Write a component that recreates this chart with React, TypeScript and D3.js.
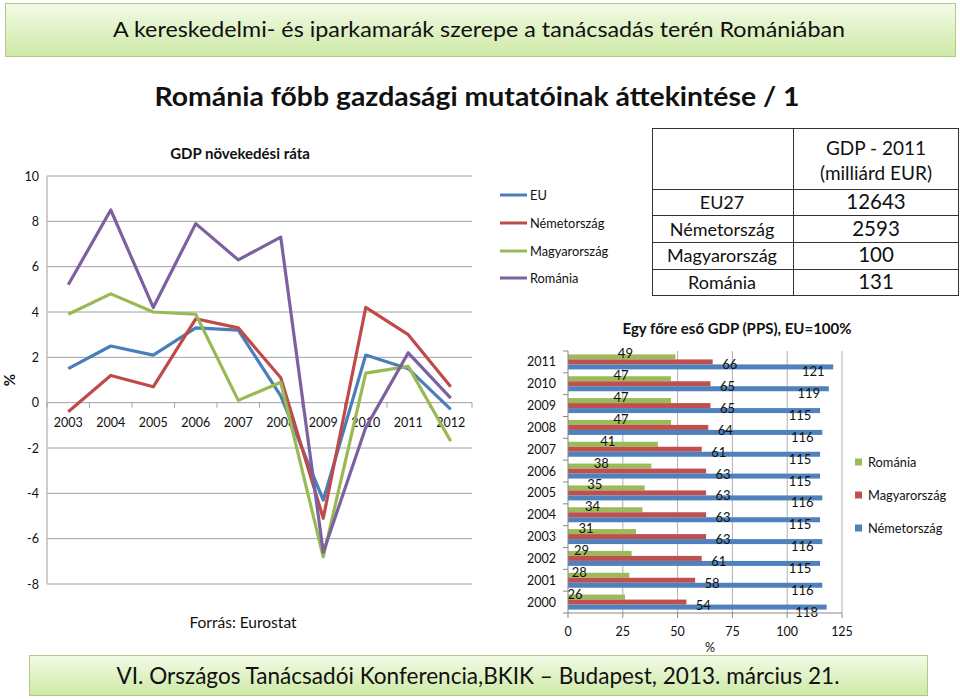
import React from "react";
import * as d3 from "d3";

const years = ["2003", "2004", "2005", "2006", "2007", "2008", "2009", "2010", "2011", "2012"];
const seriesNames = ["EU", "Németország", "Magyarország", "Románia"];
const euGrowth = [1.5, 2.5, 2.1, 3.3, 3.2, 0.3, -4.3, 2.1, 1.5, -0.3];
const deGrowth = [-0.4, 1.2, 0.7, 3.7, 3.3, 1.1, -5.1, 4.2, 3.0, 0.7];
const huGrowth = [3.9, 4.8, 4.0, 3.9, 0.1, 0.9, -6.8, 1.3, 1.6, -1.7];
const roGrowth = [5.2, 8.5, 4.2, 7.9, 6.3, 7.3, -6.6, -1.1, 2.2, 0.2];
const lineColors = ["#4a7ebb", "#be4b48", "#98b954", "#7d60a0"];
const yTicks = [-8, -6, -4, -2, 0, 2, 4, 6, 8, 10];

const tableNames = ["EU27", "Németország", "Magyarország", "Románia"];
const tableValues = ["12643", "2593", "100", "131"];

const barYears = ["2011", "2010", "2009", "2008", "2007", "2006", "2005", "2004", "2003", "2002", "2001", "2000"];
const roPPS = [49, 47, 47, 47, 41, 38, 35, 34, 31, 29, 28, 26];
const huPPS = [66, 65, 65, 64, 61, 63, 63, 63, 63, 61, 58, 54];
const dePPS = [121, 119, 115, 116, 115, 115, 116, 115, 116, 115, 116, 118];
const barSeriesNames = ["Románia", "Magyarország", "Németország"];
const barColors = ["#9bbb59", "#c0504d", "#4f81bd"];
const xTicks = [0, 25, 50, 75, 100, 125];

const FONT = "Lato, 'Open Sans', sans-serif";

export default function App() {
  // line chart scales
  const xb = d3.scaleBand<string>().domain(years).range([47, 472]).paddingInner(0).paddingOuter(0);
  const xc = (y: string) => (xb(y) as number) + xb.bandwidth() / 2;
  const ly = d3.scaleLinear().domain([-8, 10]).range([584, 176]);
  const growth = [euGrowth, deGrowth, huGrowth, roGrowth];
  const lineGen = d3
    .line<number>()
    .x((_, i) => xc(years[i]))
    .y((d) => ly(d));

  // bar chart scales
  const bx = d3.scaleLinear().domain([0, 125]).range([568, 842]);
  const by = d3.scaleBand<string>().domain(barYears).range([351, 613]).paddingInner(0);
  const bw = by.bandwidth();
  const barH = 5;
  const groupOff = (bw - barH * 3) / 2;
  const barData = [roPPS, huPPS, dePPS];
  const labelDx = [-50, 17, -20];
  const labelDy = [-3, 3, 5];

  return (
    <svg width={960} height={699} style={{ position: "absolute", left: 0, top: 0 }} fontFamily={FONT}>
      <defs>
        <linearGradient id="bannerGrad" x1="0" y1="0" x2="0" y2="1">
          <stop offset="0%" stopColor="#f3fbe6" />
          <stop offset="100%" stopColor="#cde9a6" />
        </linearGradient>
      </defs>
      <rect x={0} y={0} width={960} height={699} fill="#ffffff" />

      {/* top banner */}
      <rect x={5.5} y={3.5} width={950} height={53} fill="url(#bannerGrad)" stroke="#b3c98c" strokeWidth={1} />
      <text x={479} y={37} fontSize={21} textAnchor="middle" fill="#111" textLength={732} lengthAdjust="spacingAndGlyphs">
        A kereskedelmi- és iparkamarák szerepe a tanácsadás terén Romániában
      </text>

      {/* main title */}
      <text x={477} y={106} fontSize={26} fontWeight="bold" textAnchor="middle" fill="#111" textLength={645} lengthAdjust="spacingAndGlyphs">
        Románia főbb gazdasági mutatóinak áttekintése / 1
      </text>

      {/* line chart */}
      <text x={240} y={159} fontSize={15} fontWeight="bold" textAnchor="middle" fill="#111">
        GDP növekedési ráta
      </text>
      {yTicks.map((t) => (
        <g key={"g" + t}>
          <line x1={47} x2={472} y1={ly(t)} y2={ly(t)} stroke="#a0a0a0" strokeWidth={1} />
          <text x={39} y={ly(t) + 4.5} fontSize={12.5} textAnchor="end" fill="#111">
            {t}
          </text>
        </g>
      ))}
      <line x1={47} x2={47} y1={ly(10)} y2={ly(-8)} stroke="#a0a0a0" strokeWidth={1} />
      {years.map((y) => (
        <line key={"t" + y} x1={xb(y) as number} x2={xb(y) as number} y1={ly(0)} y2={ly(0) + 5} stroke="#a0a0a0" />
      ))}
      <line x1={472} x2={472} y1={ly(0)} y2={ly(0) + 5} stroke="#a0a0a0" />
      {years.map((y) => (
        <text key={"yl" + y} x={xc(y)} y={ly(0) + 24} fontSize={12.5} textAnchor="middle" fill="#111">
          {y}
        </text>
      ))}
      <text x={15} y={380} fontSize={15} fontWeight="bold" textAnchor="middle" transform="rotate(-90 15 380)" fill="#111">
        %
      </text>
      {growth.map((s, i) => (
        <path key={"l" + i} d={lineGen(s) as string} fill="none" stroke={lineColors[i]} strokeWidth={3.2} strokeLinejoin="round" />
      ))}
      <text x={243} y={628} fontSize={15.5} textAnchor="middle" fill="#111">
        Forrás: Eurostat
      </text>

      {/* line legend */}
      {seriesNames.map((n, i) => {
        const yy = [195, 223, 251, 278][i];
        return (
          <g key={"lg" + n}>
            <line x1={500} x2={527} y1={yy} y2={yy} stroke={lineColors[i]} strokeWidth={3} />
            <text x={530} y={yy + 4.5} fontSize={12.8} fill="#111">
              {n}
            </text>
          </g>
        );
      })}

      {/* table */}
      <g stroke="#333" strokeWidth={1} fill="none">
        <rect x={652.5} y={128.5} width={306} height={167} />
        <line x1={793.5} x2={793.5} y1={128.5} y2={295.5} />
        {[189.5, 215.5, 242.5, 269.5].map((yy) => (
          <line key={"tl" + yy} x1={652.5} x2={958.5} y1={yy} y2={yy} />
        ))}
      </g>
      <text x={876} y={155} fontSize={19} textAnchor="middle" fill="#111">
        GDP - 2011
      </text>
      <text x={876} y={180} fontSize={19} textAnchor="middle" fill="#111">
        (milliárd EUR)
      </text>
      {tableNames.map((n, i) => {
        const yy = [209, 236, 262, 289][i];
        return (
          <g key={"tr" + n}>
            <text x={722} y={yy} fontSize={18} textAnchor="middle" fill="#111">
              {n}
            </text>
            <text x={876} y={yy} fontSize={20.5} textAnchor="middle" fill="#111">
              {tableValues[i]}
            </text>
          </g>
        );
      })}

      {/* bar chart */}
      <text x={737} y={334} fontSize={15} fontWeight="bold" textAnchor="middle" fill="#111">
        Egy főre eső GDP (PPS), EU=100%
      </text>
      {xTicks.slice(1).map((t) => (
        <line key={"bg" + t} x1={bx(t)} x2={bx(t)} y1={351} y2={613} stroke="#b0b0b0" strokeWidth={1} />
      ))}
      {barYears.map((yr, gi) =>
        barData.map((s, si) => (
          <rect
            key={"b" + yr + si}
            x={bx(0)}
            y={(by(yr) as number) + groupOff + si * barH}
            width={bx(s[gi]) - bx(0)}
            height={barH}
            fill={barColors[si]}
          />
        ))
      )}
      {barYears.map((yr, gi) =>
        barData.map((s, si) => (
          <text
            key={"bl" + yr + si}
            x={bx(s[gi]) + labelDx[si]}
            y={(by(yr) as number) + groupOff + si * barH + barH / 2 + 4.5 + labelDy[si]}
            fontSize={13}
            textAnchor="middle"
            fill="#111"
          >
            {s[gi]}
          </text>
        ))
      )}
      <line x1={568} x2={568} y1={351} y2={613} stroke="#888" />
      <line x1={568} x2={842} y1={613} y2={613} stroke="#888" />
      {barYears.map((yr) => (
        <line key={"yt" + yr} x1={563} x2={568} y1={by(yr) as number} y2={by(yr) as number} stroke="#888" />
      ))}
      <line x1={563} x2={568} y1={613} y2={613} stroke="#888" />
      {xTicks.map((t) => (
        <line key={"xt" + t} x1={bx(t)} x2={bx(t)} y1={613} y2={618} stroke="#888" />
      ))}
      {barYears.map((yr) => (
        <text key={"byl" + yr} x={556} y={(by(yr) as number) + bw / 2 + 4.5} fontSize={12.5} textAnchor="end" fill="#111">
          {yr}
        </text>
      ))}
      {xTicks.map((t) => (
        <text key={"xl" + t} x={bx(t)} y={636} fontSize={12.5} textAnchor="middle" fill="#111">
          {t}
        </text>
      ))}
      <text x={710} y={652} fontSize={12.5} textAnchor="middle" fill="#111">
        %
      </text>

      {/* bar legend */}
      {barSeriesNames.map((n, i) => {
        const yy = [462, 495, 528][i];
        return (
          <g key={"blg" + n}>
            <rect x={855} y={yy - 3.5} width={7} height={7} fill={barColors[i]} />
            <text x={868} y={yy + 4.5} fontSize={12.8} fill="#111">
              {n}
            </text>
          </g>
        );
      })}

      {/* bottom banner */}
      <rect x={29.5} y={655.5} width={898} height={40} fill="url(#bannerGrad)" stroke="#b3c98c" strokeWidth={1} />
      <text x={478} y={684} fontSize={23} textAnchor="middle" fill="#111" textLength={723} lengthAdjust="spacingAndGlyphs">
        VI. Országos Tanácsadói Konferencia,BKIK – Budapest, 2013. március 21.
      </text>
    </svg>
  );
}
